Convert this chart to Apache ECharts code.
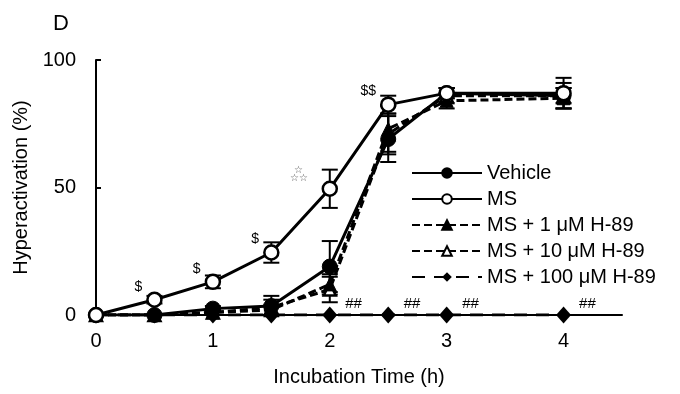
<!DOCTYPE html>
<html>
<head>
<meta charset="utf-8">
<script src="https://cdn.jsdelivr.net/npm/echarts@6/dist/echarts.min.js"></script>
<style>
  html, body { margin: 0; padding: 0; background: #fff; }
  #chart { width: 680px; height: 394px; }
</style>
</head>
<body>
<div id="chart"></div>
<script>
// Incubation time points (h)
const times = [0, 0.5, 1, 1.5, 2, 2.5, 3, 4];
const xTicks = [0, 1, 2, 3, 4];
const yTicks = [0, 50, 100];

// Hyperactivation (%) per group, with SEM
const vehicle      = [0, 0, 2.5, 3.5, 19, 69, 87, 86];
const vehicleErr   = [0, 0, 1, 4, 10, 9, 2, 3];
const ms           = [0, 6, 13, 24.5, 49.5, 82.5, 87, 87];
const msErr        = [0, 1.5, 2.5, 4, 7.5, 3.5, 2, 6];
const h89_1uM      = [0, 0, 1, 2, 12, 73, 84, 85];
const h89_1uMErr   = [0, 0, 1, 2, 4, 9, 3, 4];
const h89_10uM     = [0, 0, 1, 3, 10, 71, 86, 86];
const h89_10uMErr  = [0, 0, 1, 3, 5, 8, 3, 5];
const h89_100uM    = [0, 0, 0, 0, 0, 0, 0, 0];
const h89_100uMErr = [0, 0, 0, 0, 0, 0, 0, 0];

// Significance marks
const msMarks   = ['', '$', '$', '$', 'stars', '$$', '', ''];
const h100Marks = ['', '', '', '', '##', '##', '##', '##'];

const names = ['Vehicle', 'MS', 'MS + 1 μM H-89', 'MS + 10 μM H-89', 'MS + 100 μM H-89'];

const FONT = 'Liberation Sans, Arial, sans-serif';

function pairs(vals) {
  return times.map((t, i) => [t, vals[i]]);
}

function errorSeries(vals, errs) {
  return {
    type: 'custom',
    z: 1,
    silent: true,
    data: times.map((t, i) => [t, vals[i], errs[i]]),
    encode: { x: 0, y: 1 },
    renderItem: function (params, api) {
      const x = api.value(0), y = api.value(1), e = api.value(2);
      if (!e) return null;
      const top = api.coord([x, y + e]);
      const bot = api.coord([x, y - e]);
      const hw = 8;
      const style = { stroke: '#000', lineWidth: 2 };
      return {
        type: 'group',
        children: [
          { type: 'line', shape: { x1: top[0], y1: top[1], x2: bot[0], y2: bot[1] }, style: style },
          { type: 'line', shape: { x1: top[0] - hw, y1: top[1], x2: top[0] + hw, y2: top[1] }, style: style },
          { type: 'line', shape: { x1: bot[0] - hw, y1: bot[1], x2: bot[0] + hw, y2: bot[1] }, style: style }
        ]
      };
    }
  };
}

const msData = pairs(ms).map((p, i) => {
  const m = msMarks[i];
  if (!m) return p;
  if (m === 'stars') {
    return {
      value: p,
      label: {
        show: true,
        position: 'left',
        distance: 14,
        offset: [0, -15],
        formatter: '{s|☆}\n{s|☆☆}',
        rich: { s: { fontSize: 10, lineHeight: 8, color: '#555', align: 'center' } }
      }
    };
  }
  return {
    value: p,
    label: {
      show: true,
      position: 'left',
      distance: 4,
      offset: [0, -13],
      formatter: m,
      fontSize: 14,
      color: '#000',
      fontFamily: FONT
    }
  };
});

const h100Data = pairs(h89_100uM).map((p, i) => {
  const m = h100Marks[i];
  if (!m) return p;
  return {
    value: p,
    label: {
      show: true,
      position: 'right',
      distance: 8,
      offset: [0, -11],
      formatter: m,
      fontSize: 15,
      color: '#000',
      fontFamily: FONT
    }
  };
});

const lineBase = {
  type: 'line',
  z: 3,
  showAllSymbol: true,
  label: { show: false }
};

const option = {
  animation: false,
  backgroundColor: '#fff',
  textStyle: { fontFamily: FONT },
  grid: { left: 96, right: 58, top: 60, bottom: 79, containLabel: false },
  graphic: [
    { type: 'text', left: 53, top: 13, style: { text: 'D', fontSize: 22, fill: '#000', fontFamily: FONT } }
  ],
  legend: {
    orient: 'vertical',
    left: 406,
    top: 158,
    itemWidth: 70,
    itemHeight: 12,
    itemGap: 6,
    textStyle: { fontSize: 20, color: '#000', fontFamily: FONT },
    data: names
  },
  xAxis: {
    type: 'value',
    min: 0,
    max: 4.5,
    interval: 1,
    name: 'Incubation Time (h)',
    nameLocation: 'middle',
    nameGap: 52,
    nameTextStyle: { fontSize: 20, color: '#000', fontFamily: FONT },
    axisLine: { show: true, onZero: false, lineStyle: { color: '#000', width: 2 } },
    axisTick: { show: false },
    splitLine: { show: false },
    axisLabel: {
      fontSize: 20, color: '#000', fontFamily: FONT, margin: 16,
      showMaxLabel: false,
      formatter: v => (xTicks.indexOf(v) >= 0 ? String(v) : '')
    }
  },
  yAxis: {
    type: 'value',
    min: 0,
    max: 100,
    interval: 50,
    name: 'Hyperactivation (%)',
    nameLocation: 'middle',
    nameGap: 60,
    nameRotate: 90,
    nameTextStyle: { fontSize: 20, color: '#000', fontFamily: FONT },
    axisLine: { show: true, lineStyle: { color: '#000', width: 2 } },
    axisTick: { show: true, inside: true, length: 5, lineStyle: { color: '#000', width: 2 } },
    splitLine: { show: false },
    axisLabel: {
      fontSize: 20, color: '#000', fontFamily: FONT, margin: 20,
      formatter: v => (yTicks.indexOf(v) >= 0 ? String(v) : '')
    }
  },
  series: [
    errorSeries(vehicle, vehicleErr),
    errorSeries(ms, msErr),
    errorSeries(h89_1uM, h89_1uMErr),
    errorSeries(h89_10uM, h89_10uMErr),
    errorSeries(h89_100uM, h89_100uMErr),
    Object.assign({}, lineBase, {
      name: names[4],
      data: h100Data,
      symbol: 'diamond',
      symbolSize: [15, 17],
      z: 2,
      lineStyle: { color: '#000', width: 3, type: [13, 9] },
      itemStyle: { color: '#000', borderColor: '#000', borderWidth: 0 }
    }),
    Object.assign({}, lineBase, {
      name: names[3],
      data: pairs(h89_10uM),
      symbol: 'triangle',
      symbolSize: 12,
      lineStyle: { color: '#000', width: 3, type: [8, 4] },
      itemStyle: { color: '#fff', borderColor: '#000', borderWidth: 2.5 }
    }),
    Object.assign({}, lineBase, {
      name: names[2],
      data: pairs(h89_1uM),
      symbol: 'triangle',
      symbolSize: 13,
      lineStyle: { color: '#000', width: 3, type: [8, 4] },
      itemStyle: { color: '#000', borderColor: '#000', borderWidth: 1 }
    }),
    Object.assign({}, lineBase, {
      name: names[0],
      data: pairs(vehicle),
      symbol: 'circle',
      symbolSize: 15,
      lineStyle: { color: '#000', width: 3 },
      itemStyle: { color: '#000', borderColor: '#000', borderWidth: 1 }
    }),
    Object.assign({}, lineBase, {
      name: names[1],
      data: msData,
      symbol: 'circle',
      symbolSize: 14,
      z: 4,
      lineStyle: { color: '#000', width: 3 },
      itemStyle: { color: '#fff', borderColor: '#000', borderWidth: 2.5 }
    })
  ]
};

const chart = echarts.init(document.getElementById('chart'), null, { renderer: 'canvas' });
chart.setOption(option);
</script>
</body>
</html>
